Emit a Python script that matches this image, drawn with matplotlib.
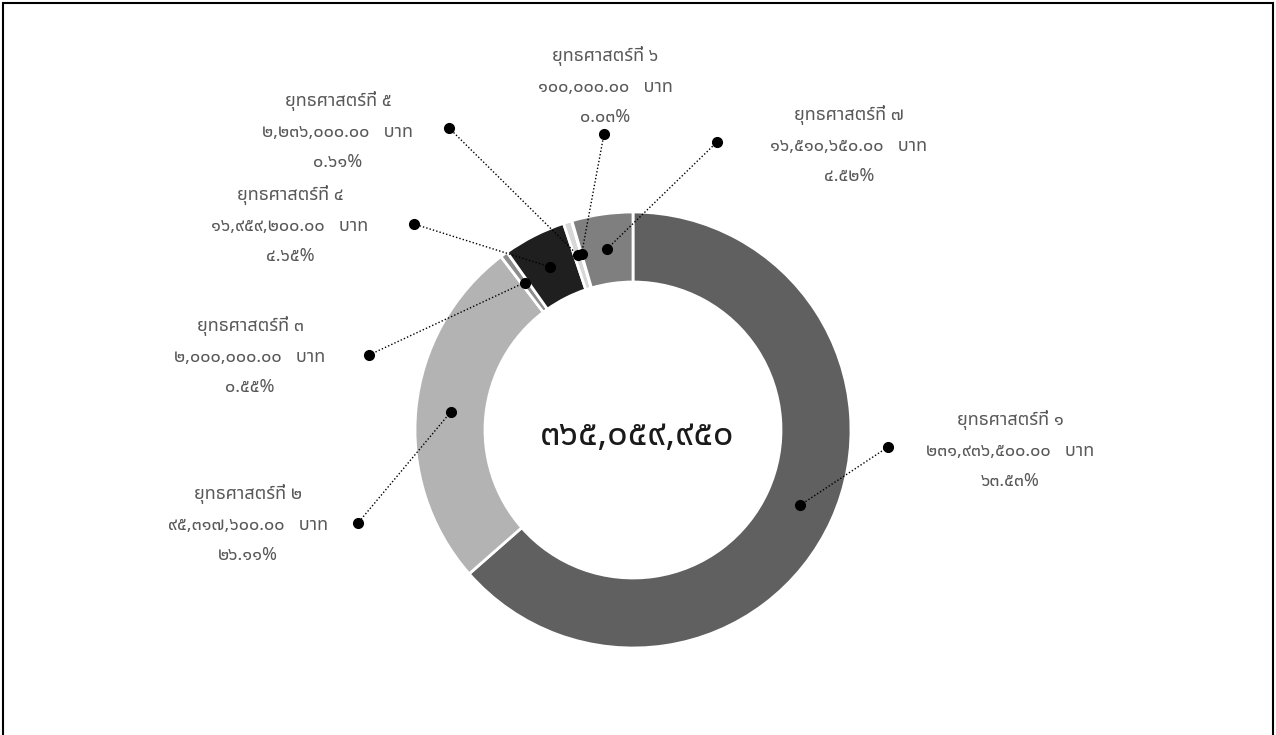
import matplotlib
matplotlib.use("Agg")
import matplotlib.pyplot as plt
from matplotlib import font_manager
from matplotlib.ft2font import FT2Font
from matplotlib.patches import Rectangle
import numpy as np

# data
labels = ["ยุทธศาสตร์ที่ ๑", "ยุทธศาสตร์ที่ ๒", "ยุทธศาสตร์ที่ ๓", "ยุทธศาสตร์ที่ ๔",
          "ยุทธศาสตร์ที่ ๕", "ยุทธศาสตร์ที่ ๖", "ยุทธศาสตร์ที่ ๗"]
amounts = [231936500.00, 95317600.00, 2000000.00, 16959200.00, 2236000.00, 100000.00, 16510650.00]
colors = ["#606060", "#b3b3b3", "#8c8c8c", "#1f1f1f", "#d7d7d7", "#9a9a9a", "#7f7f7f"]

# label layout (pixels from top-left): text centre and outer dot
text_pos = [(1010, 450), (248, 524), (250, 356), (290, 225), (338, 131), (605, 86), (849, 145)]
dot_pos = [(888, 447), (358, 523), (369, 355), (414, 224), (449, 128), (604, 134), (717, 142)]

W, H = 1276, 735
CX, CY = 633, 430
R_OUT, R_IN = 218, 148

THAI = str.maketrans("0123456789", "๐๑๒๓๔๕๖๗๘๙")


def thai_font():
    prefer = ["Noto Sans Thai", "Noto Sans Thai UI", "Loma", "Garuda", "Sarabun", "Tlwg Typo"]
    found = []
    for f in font_manager.fontManager.ttflist:
        try:
            if 0x0E22 in FT2Font(f.fname).get_charmap():
                found.append(f.name)
        except Exception:
            pass
    for p in prefer:
        if p in found:
            return p
    return found[0] if found else "DejaVu Sans"


font = thai_font()
plt.rcParams["font.family"] = [font, "DejaVu Sans"]

fig = plt.figure(figsize=(W / 100, H / 100), dpi=100)
ax = fig.add_axes([0, 0, 1, 1])

wedges, _ = ax.pie(amounts, colors=colors, startangle=90, counterclock=False,
                   radius=R_OUT, center=(CX, H - CY),
                   wedgeprops=dict(width=R_OUT - R_IN, edgecolor="white", linewidth=2))

total = sum(amounts)
r_mid = (R_OUT + R_IN) / 2
for w, lab, amt, tp, dp in zip(wedges, labels, amounts, text_pos, dot_pos):
    ang = np.deg2rad((w.theta1 + w.theta2) / 2)
    px = CX + r_mid * np.cos(ang)
    py = (H - CY) + r_mid * np.sin(ang)
    ex, ey = dp[0], H - dp[1]
    ax.plot([px, ex], [py, ey], color="black", lw=1, ls=(0, (1, 1.5)))
    ax.plot([px, ex], [py, ey], "o", color="black", ms=7, ls="none")
    pct = amt / total * 100
    txt = "%s\n%s   บาท\n%s%%" % (lab, ("{:,.2f}".format(amt)).translate(THAI),
                                  ("{:.2f}".format(pct)).translate(THAI))
    ax.text(tp[0], H - tp[1], txt, ha="center", va="center", multialignment="center",
            fontsize=13, color="#595959", linespacing=1.85)

ax.text(CX + 4, H - 436, "{:,.0f}".format(total).translate(THAI), ha="center", va="center",
        fontsize=26, fontweight="bold", color="#1a1a1a")

ax.set_xlim(0, W)
ax.set_ylim(0, H)
ax.set_aspect("equal")
ax.axis("off")

fig.add_artist(Rectangle((3 / W, -0.05), (W - 6) / W, 1.05 - 3 / H, transform=fig.transFigure,
                         fill=False, edgecolor="black", lw=1.5))

fig.savefig("out.png", dpi=100)
